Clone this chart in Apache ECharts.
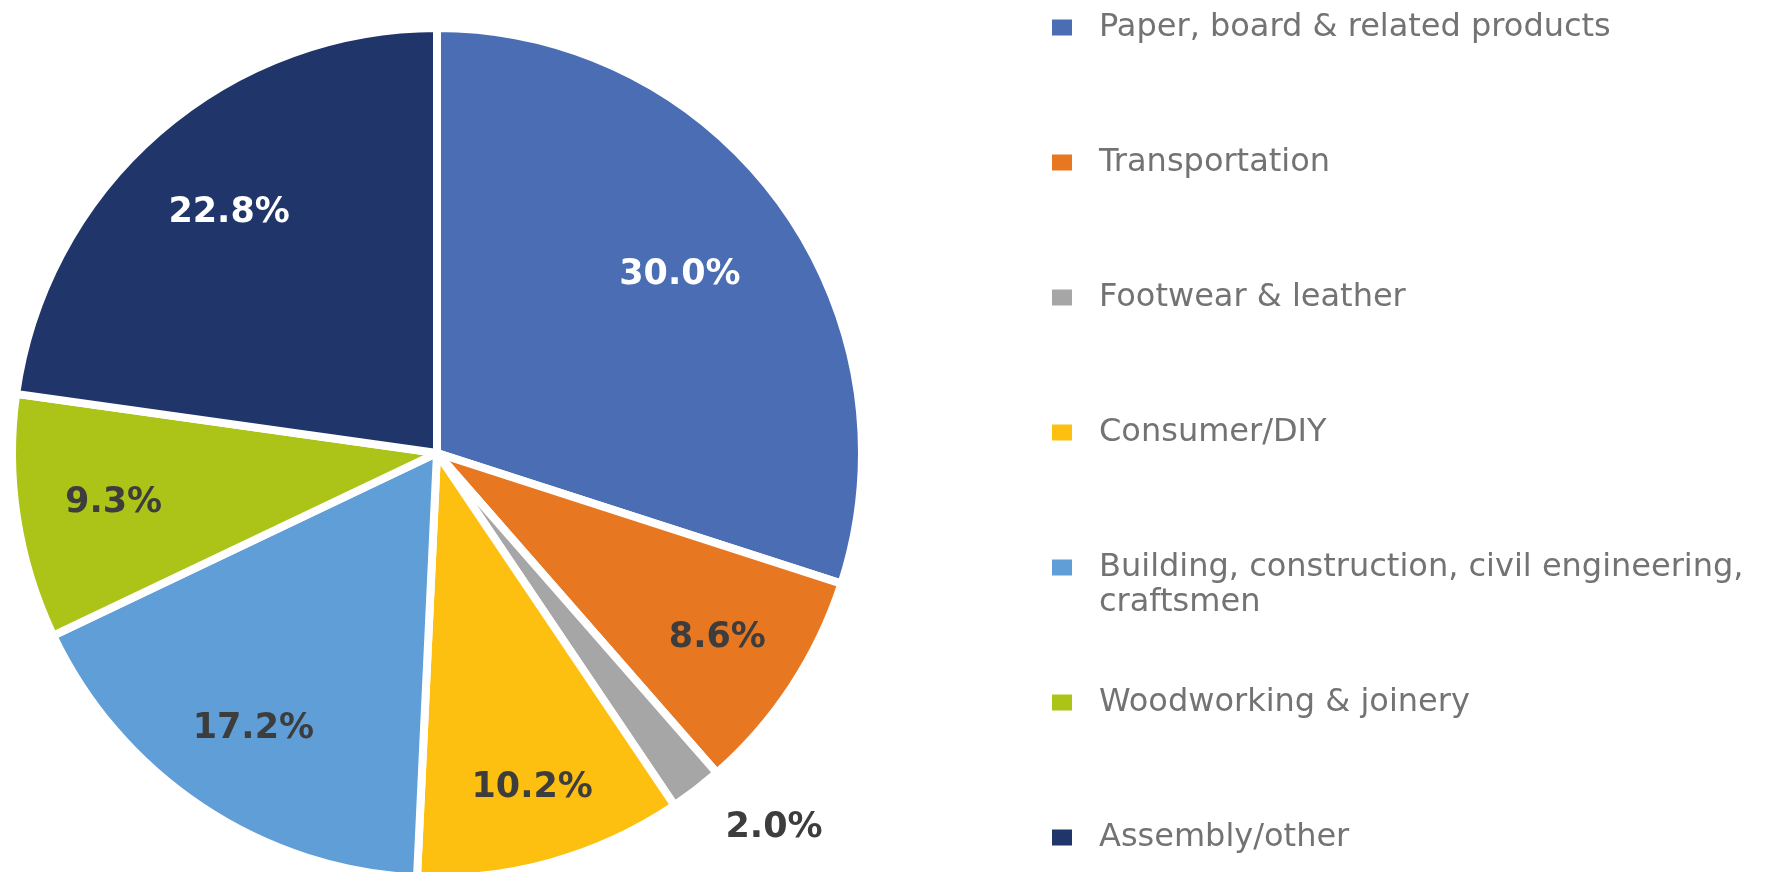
<!DOCTYPE html>
<html>
<head>
<meta charset="utf-8">
<script src="https://cdn.jsdelivr.net/npm/echarts@6/dist/echarts.min.js"></script>
<style>
  html, body { margin: 0; padding: 0; background: #ffffff; }
  #chart { width: 1788px; height: 872px; }
</style>
</head>
<body>
<div id="chart"></div>
<script>
// ---- data ----
const categories = [
  'Paper, board & related products',
  'Transportation',
  'Footwear & leather',
  'Consumer/DIY',
  'Building, construction, civil engineering,\ncraftsmen',
  'Woodworking & joinery',
  'Assembly/other'
];
const values = [30.0, 8.6, 2.0, 10.2, 17.2, 9.3, 22.8];

// ---- styles ----
const sliceColors = ['#4A6DB3', '#E87722', '#A6A6A6', '#FDC010', '#609ED7', '#ABC417', '#20356A'];
const labelColors = ['#ffffff', '#3d3d3d', '#3d3d3d', '#3d3d3d', '#3d3d3d', '#3d3d3d', '#ffffff'];
// relative radius (fraction of pie radius) at which each inside label sits
const labelRadiusRatio = [0.69, 0.79, 1, 0.82, 0.78, 0.77, 0.745];
const outsideIdx = 2;

const chart = echarts.init(document.getElementById('chart'), null, { renderer: 'canvas' });

const CENTER = [437, 453];
const R = 425;
const R_IN = R * 0.54;
const R_OUT = R - 4;
const baseRatio = ((R_IN + R_OUT) / 2) / R_OUT;

const mainData = categories.map((name, i) => ({
  name: name,
  value: values[i],
  itemStyle: { color: sliceColors[i] }
}));

const labelData = categories.map((name, i) => {
  const item = {
    name: name,
    value: values[i],
    itemStyle: { color: 'rgba(0,0,0,0)' },
    label: { color: labelColors[i] }
  };
  if (i === outsideIdx) {
    item.label.position = 'outside';
    item.label.distanceToLabelLine = 0;
    item.labelLine = { show: false, length: 52, length2: 0 };
  }
  return item;
});

const option = {
  backgroundColor: '#ffffff',
  animation: false,
  legend: {
    orient: 'vertical',
    left: 1050,
    top: -25,
    height: 1000,
    padding: 0,
    itemWidth: 22,
    itemHeight: 18,
    itemGap: 30,
    icon: 'rect',
    selectedMode: false,
    data: categories,
    formatter: function (name) {
      const lines = name.split('\n');
      if (lines.length === 1) lines.push('\u00a0');
      return '\u00a0\n' + lines.join('\n');
    },
    textStyle: {
      fontFamily: 'DejaVu Sans',
      fontWeight: 'normal',
      fontSize: 32,
      lineHeight: 35,
      color: '#737373',
      padding: [0, 0, 0, 21]
    }
  },
  series: [
    {
      type: 'pie',
      center: CENTER,
      radius: R,
      startAngle: 90,
      clockwise: true,
      silent: true,
      label: { show: false },
      labelLine: { show: false },
      itemStyle: { borderColor: '#ffffff', borderWidth: 8 },
      emphasis: { disabled: true },
      data: mainData
    },
    {
      type: 'pie',
      center: CENTER,
      radius: [R_IN, R_OUT],
      startAngle: 90,
      clockwise: true,
      silent: true,
      avoidLabelOverlap: false,
      itemStyle: { borderWidth: 0 },
      emphasis: { disabled: true },
      label: {
        show: true,
        position: 'inside',
        fontFamily: 'DejaVu Sans',
        fontWeight: 'bold',
        fontSize: 35,
        formatter: function (p) { return p.value.toFixed(1) + '%'; }
      },
      labelLine: { show: false },
      labelLayout: function (params) {
        const i = params.dataIndex;
        if (i === outsideIdx) return {};
        const r = params.rect;
        const lx = r.x + r.width / 2 - CENTER[0];
        const ly = r.y + r.height / 2 - CENTER[1];
        const f = labelRadiusRatio[i] / baseRatio - 1;
        return { dx: lx * f, dy: ly * f };
      },
      data: labelData
    }
  ]
};

chart.setOption(option);
</script>
</body>
</html>
